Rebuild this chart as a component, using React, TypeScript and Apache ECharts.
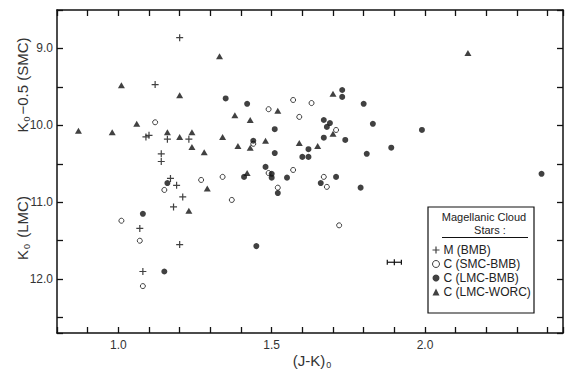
import React, { useEffect, useRef } from 'react';
import * as echarts from 'echarts';

// (J-K)0 , K0 magnitude
const mBmb: [number, number][] = [
  [1.20, 8.86], [1.12, 9.47], [1.09, 10.15], [1.10, 10.13], [1.16, 10.18],
  [1.23, 10.18], [1.14, 10.37], [1.14, 10.47], [1.17, 10.69], [1.19, 10.78],
  [1.21, 10.93], [1.18, 11.06], [1.07, 11.34], [1.20, 11.55], [1.08, 11.90],
];

const cSmcBmb: [number, number][] = [
  [1.12, 9.96], [1.15, 10.84], [1.01, 11.24], [1.07, 11.50], [1.08, 12.09],
  [1.27, 10.71], [1.34, 10.67], [1.37, 10.97], [1.44, 10.24], [1.49, 9.79],
  [1.49, 10.62], [1.52, 10.81], [1.57, 9.67], [1.57, 10.58], [1.59, 9.89],
  [1.63, 9.71], [1.71, 10.06], [1.67, 10.67], [1.68, 10.80], [1.72, 11.30],
];

const cLmcBmb: [number, number][] = [
  [1.16, 10.75], [1.08, 11.15], [1.15, 11.90], [1.35, 9.65], [1.42, 9.72],
  [1.51, 10.05], [1.44, 10.20], [1.51, 10.36], [1.73, 9.54], [1.73, 9.63],
  [1.80, 9.72], [1.67, 9.93], [1.69, 9.97], [1.68, 10.02], [1.83, 9.98],
  [1.67, 10.16], [1.74, 10.19], [1.62, 10.31], [1.81, 10.37], [1.60, 10.41],
  [1.62, 10.41], [1.48, 10.54], [1.50, 10.63], [1.50, 10.68], [1.41, 10.67],
  [1.55, 10.68], [1.71, 10.67], [1.66, 10.75], [1.79, 10.81], [1.52, 10.88],
  [1.45, 11.57], [1.89, 10.29], [1.99, 10.06], [2.38, 10.63],
];

const cLmcWorc: [number, number][] = [
  [0.87, 10.07], [0.98, 10.09], [1.01, 9.48], [1.06, 9.98], [1.16, 10.09],
  [1.20, 10.15], [1.20, 9.61], [1.24, 10.09], [1.24, 10.28], [1.23, 11.11],
  [1.28, 10.35], [1.29, 10.82], [1.33, 9.10], [1.34, 10.15], [1.38, 9.87],
  [1.39, 10.27], [1.43, 10.29], [1.43, 9.93], [1.48, 10.20], [1.52, 9.81],
  [1.59, 10.23], [1.65, 10.27], [1.70, 9.59], [1.70, 10.11], [1.42, 10.62],
  [2.14, 9.06],
];

// typical error bar: [x, y, halfWidthX, halfHeightY]
const errorBar: number[] = [1.90, 11.78, 0.023, 0.04];

const xTickLabels = ['1.0', '1.5', '2.0'];
const yTickLabels = ['9.0', '10.0', '11.0', '12.0'];
const legendTitle = ['Magellanic Cloud', 'Stars :'];
const seriesNames = ['M (BMB)', 'C (SMC-BMB)', 'C (LMC-BMB)', 'C (LMC-WORC)'];

const INK = '#111';
const FONT = 'Liberation Sans, Arial, sans-serif';
const CROSS = 'path://M2.9,0H4.1V2.9H7V4.1H4.1V7H2.9V4.1H0V2.9H2.9Z';

export default function App() {
  const ref = useRef<HTMLDivElement>(null);
  useEffect(() => {
    if (!ref.current) return;
    const chart = echarts.init(ref.current, null, { renderer: 'svg' });
    const axisLineStyle = { color: INK, width: 1.5 };
    const tick = { show: true, inside: true, length: 6, lineStyle: { color: INK, width: 1.3 } };
    const xFmt = (v: number) => (xTickLabels.includes(v.toFixed(1)) ? v.toFixed(1) : '');
    const yFmt = (v: number) => (yTickLabels.includes(v.toFixed(1)) ? v.toFixed(1) : '');
    const xBase = { type: 'value', min: 0.8, max: 2.45, interval: 0.1, splitLine: { show: false } };
    const yBase = { type: 'value', min: 8.5, max: 12.7, interval: 0.5, inverse: true, splitLine: { show: false } };
    const richTitle = {
      a: { fontSize: 15, fontFamily: FONT, fill: '#333', lineHeight: 18, verticalAlign: 'middle' },
      s: { fontSize: 9, fontFamily: FONT, fill: '#333', lineHeight: 9, verticalAlign: 'bottom', padding: [0, 2, 0, 1] },
    };

    chart.setOption({
      animation: false,
      backgroundColor: '#fff',
      grid: { left: 57, right: 5, top: 10, bottom: 46, outerBoundsMode: 'none' },
      xAxis: [
        {
          ...xBase, position: 'bottom',
          axisLine: { onZero: false, lineStyle: axisLineStyle }, axisTick: tick,
          axisLabel: { formatter: xFmt, color: '#333', fontSize: 12, fontFamily: FONT, margin: 6 },
        },
        {
          ...xBase, position: 'top',
          axisLine: { onZero: false, lineStyle: axisLineStyle }, axisTick: tick,
          axisLabel: { show: false },
        },
      ],
      yAxis: [
        {
          ...yBase, position: 'left',
          axisLine: { onZero: false, lineStyle: axisLineStyle }, axisTick: tick,
          axisLabel: { formatter: yFmt, color: '#333', fontSize: 12, fontFamily: FONT, margin: 4 },
        },
        {
          ...yBase, position: 'right',
          axisLine: { onZero: false, lineStyle: axisLineStyle }, axisTick: tick,
          axisLabel: { show: false },
        },
      ],
      legend: {
        orient: 'vertical', left: 432, top: 244, itemWidth: 7, itemHeight: 7, itemGap: 2,
        padding: 0, z: 10, selectedMode: false,
        itemStyle: { borderWidth: 1 },
        textStyle: { fontSize: 12, fontFamily: FONT, color: '#222', padding: [0, 0, 0, -1] },
        data: seriesNames,
      },
      graphic: [
        {
          type: 'rect', z: 1, shape: { x: 428, y: 207, width: 106, height: 106 },
          style: { fill: '#fff', stroke: INK, lineWidth: 1.2 },
        },
        {
          type: 'text', z: 5, x: 484, y: 217,
          style: { text: legendTitle[0], font: `11px ${FONT}`, fill: '#222', align: 'center', verticalAlign: 'middle' },
        },
        {
          type: 'text', z: 5, x: 490, y: 230,
          style: { text: legendTitle[1], font: `11px ${FONT}`, fill: '#222', align: 'center', verticalAlign: 'middle' },
        },
        {
          type: 'line', z: 5, shape: { x1: 442, y1: 237.5, x2: 528, y2: 237.5 },
          style: { stroke: INK, lineWidth: 1 },
        },
        {
          type: 'text', x: 22, y: 85, rotation: Math.PI / 2,
          style: { text: '{a|K}{s|0}{a|−0.5 (SMC)}', align: 'center', verticalAlign: 'middle', rich: richTitle },
        },
        {
          type: 'text', x: 22, y: 228, rotation: Math.PI / 2,
          style: { text: '{a|K}{s|0}{a| (LMC)}', align: 'center', verticalAlign: 'middle', rich: richTitle },
        },
        {
          type: 'text', x: 313, y: 360,
          style: { text: '{a|(J-K)}{s|0}', align: 'center', verticalAlign: 'middle', rich: richTitle },
        },
      ],
      series: [
        {
          name: seriesNames[0], type: 'scatter', data: mBmb, symbol: CROSS, symbolSize: 7,
          itemStyle: { color: INK, borderWidth: 0 },
        },
        {
          name: seriesNames[1], type: 'scatter', data: cSmcBmb, symbol: 'circle', symbolSize: 5,
          itemStyle: { color: '#fff', borderColor: INK, borderWidth: 1 },
        },
        {
          name: seriesNames[2], type: 'scatter', data: cLmcBmb, symbol: 'circle', symbolSize: 6,
          itemStyle: { color: INK, borderWidth: 0 },
        },
        {
          name: seriesNames[3], type: 'scatter', data: cLmcWorc, symbol: 'triangle', symbolSize: [7, 6],
          itemStyle: { color: INK, borderWidth: 0 },
        },
        {
          type: 'custom', silent: true, data: [errorBar],
          renderItem: (_p: any, api: any) => {
            const x = api.value(0), y = api.value(1), ex = api.value(2), ey = api.value(3);
            const l = api.coord([x - ex, y]);
            const r = api.coord([x + ex, y]);
            const t = api.coord([x, y - ey]);
            const b = api.coord([x, y + ey]);
            const lt = api.coord([x - ex, y - ey * 0.8]);
            const lb = api.coord([x - ex, y + ey * 0.8]);
            const rt = api.coord([x + ex, y - ey * 0.8]);
            const rb = api.coord([x + ex, y + ey * 0.8]);
            const style = { stroke: INK, lineWidth: 1.2 };
            return {
              type: 'group',
              children: [
                { type: 'line', shape: { x1: l[0], y1: l[1], x2: r[0], y2: r[1] }, style },
                { type: 'line', shape: { x1: t[0], y1: t[1], x2: b[0], y2: b[1] }, style },
                { type: 'line', shape: { x1: lt[0], y1: lt[1], x2: lb[0], y2: lb[1] }, style },
                { type: 'line', shape: { x1: rt[0], y1: rt[1], x2: rb[0], y2: rb[1] }, style },
              ],
            };
          },
        },
      ],
    });
    return () => chart.dispose();
  }, []);
  return <div ref={ref} style={{ position: 'fixed', left: 0, top: 0, width: 568, height: 379 }} />;
}
